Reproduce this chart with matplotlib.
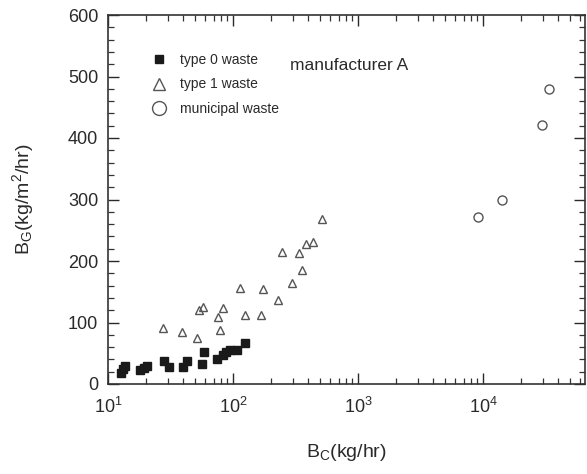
import matplotlib
matplotlib.use("Agg")
import matplotlib.pyplot as plt
from matplotlib.lines import Line2D
from matplotlib.ticker import MultipleLocator, LogLocator, NullFormatter

plt.rcParams['font.family'] = ['Liberation Sans', 'DejaVu Sans']
plt.rcParams['mathtext.fontset'] = 'custom'
plt.rcParams['mathtext.rm'] = 'Liberation Sans'
plt.rcParams['mathtext.it'] = 'Liberation Sans'

# type 0 waste (filled squares)
type0_bc = [12.8, 13.1, 13.8, 18.0, 19.5, 20.5, 28, 30.5, 40, 42.5, 56, 59, 74, 83, 88, 95, 107, 125]
type0_bg = [18, 25, 29, 22, 26, 29, 37, 28, 27, 37, 33, 52, 41, 47, 52, 55, 55, 66]

# type 1 waste (open triangles)
type1_bc = [27.7, 39, 51.8, 53.5, 58, 75.3, 78.2, 83.7, 114, 124, 168, 175, 231, 245, 298, 337, 354, 384, 439, 512]
type1_bg = [91, 85, 74, 121, 125, 109, 87, 123, 156, 112, 112, 154, 137, 215, 165, 213, 185, 227, 231, 268]

# municipal waste (open circles)
muni_bc = [9170, 14200, 29800, 33700]
muni_bg = [272, 300, 421, 479]

fig = plt.figure(figsize=(5.87, 4.74), dpi=100)
ax = fig.add_axes([108 / 587, 1 - 384 / 474, 477 / 587, 369 / 474])

ax.plot(type0_bc, type0_bg, 's', ms=5.5, color='#1a1a1a', mec='#1a1a1a')
ax.plot(type1_bc, type1_bg, '^', ms=5.5, mfc='none', mec='#555555', mew=1.0)
ax.plot(muni_bc, muni_bg, 'o', ms=6.5, mfc='none', mec='#555555', mew=1.0)

ax.set_xscale('log')
ax.set_xlim(10, 6.55e4)
ax.set_ylim(0, 600)
ax.yaxis.set_major_locator(MultipleLocator(100))
ax.yaxis.set_minor_locator(MultipleLocator(20))
ax.xaxis.set_major_locator(LogLocator(base=10, numticks=10))
ax.xaxis.set_minor_locator(LogLocator(base=10, subs=range(2, 10), numticks=20))
ax.xaxis.set_minor_formatter(NullFormatter())

ax.tick_params(which='both', direction='in', top=True, right=True, color='#333333')
ax.tick_params(which='major', length=8, width=1.0, labelsize=13, colors='#2a2a2a')
ax.tick_params(axis='x', which='major', pad=9)
ax.tick_params(axis='y', which='major', pad=7)
ax.tick_params(which='minor', length=4.5, width=0.9)
for sp in ax.spines.values():
    sp.set_linewidth(1.2)
    sp.set_color('#333333')

ax.set_xlabel('B$_\\mathrm{C}$(kg/hr)', fontsize=14, color='#2a2a2a', labelpad=18)
ax.set_ylabel('B$_\\mathrm{G}$(kg/m$^2$/hr)', fontsize=14, color='#2a2a2a', labelpad=23)

ax.text(290 / 587, 1 - 65 / 474, 'manufacturer A', transform=fig.transFigure,
        fontsize=12.5, color='#2a2a2a', va='center', ha='left')

handles = [
    Line2D([], [], ls='none', marker='s', ms=6, color='#1a1a1a'),
    Line2D([], [], ls='none', marker='^', ms=8, mfc='none', mec='#555555', mew=1.0),
    Line2D([], [], ls='none', marker='o', ms=10, mfc='none', mec='#555555', mew=1.0),
]
labels = ['type 0 waste', 'type 1 waste', 'municipal waste']
leg = ax.legend(handles, labels, loc='upper left', bbox_to_anchor=(152 / 587, 1 - 53 / 474),
                bbox_transform=fig.transFigure, frameon=False, fontsize=10,
                handlelength=1.0, handletextpad=1.0, labelspacing=0.75, borderpad=0,
                borderaxespad=0)
for t in leg.get_texts():
    t.set_color('#2a2a2a')

fig.savefig('out.png', dpi=100)
